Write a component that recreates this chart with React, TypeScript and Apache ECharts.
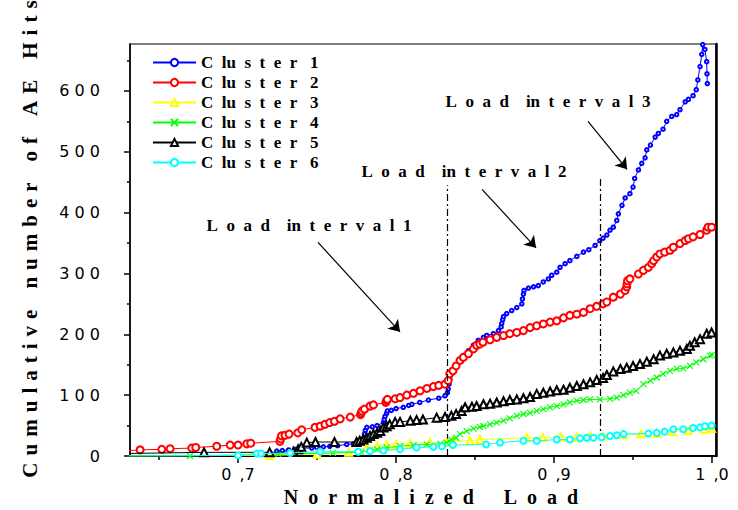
import React, { useEffect, useRef } from "react";
import * as echarts from "echarts";

// Cumulative AE hits per cluster against normalized load: [load, hits]
const cluster1: [number, number][] = [
  [0.7245, 8], [0.728, 9], [0.732, 10], [0.736, 11], [0.74, 13], [0.7466, 13], [0.7498, 14], [0.754, 15],
  [0.758, 16], [0.763, 17], [0.7688, 19], [0.773, 20], [0.7775, 22], [0.7793, 24], [0.7796, 30], [0.78, 36],
  [0.7805, 42], [0.7815, 47], [0.785, 48], [0.788, 50], [0.792, 55], [0.7925, 60], [0.793, 65], [0.794, 70],
  [0.7945, 74], [0.797, 75], [0.8, 78], [0.8046, 80], [0.808, 83], [0.81, 85], [0.815, 88], [0.8205, 92],
  [0.827, 95], [0.831, 99], [0.8325, 104], [0.833, 110], [0.8335, 118], [0.834, 127], [0.8345, 135],
  [0.837, 142], [0.8405, 157], [0.8426, 165], [0.8458, 173], [0.849, 182], [0.852, 190], [0.8553, 195],
  [0.8574, 198], [0.8616, 201], [0.8648, 206], [0.8665, 212], [0.8669, 218], [0.8675, 224], [0.868, 229],
  [0.87, 234], [0.8732, 239], [0.8764, 244], [0.8796, 250], [0.88, 258], [0.8806, 266], [0.881, 272],
  [0.8838, 276], [0.887, 278], [0.89, 280], [0.8932, 286], [0.8964, 291], [0.8985, 297], [0.9017, 302],
  [0.9038, 310], [0.907, 316], [0.91, 321], [0.9144, 328], [0.9186, 335], [0.922, 339], [0.926, 346],
  [0.929, 354], [0.931, 358], [0.9334, 363], [0.9354, 371], [0.9375, 376], [0.9397, 387], [0.9407, 398],
  [0.943, 412], [0.945, 424], [0.948, 431], [0.95, 442], [0.951, 456], [0.9534, 470], [0.9555, 481],
  [0.9576, 490], [0.9587, 503], [0.961, 511], [0.964, 524], [0.966, 530], [0.969, 537], [0.9713, 550],
  [0.9745, 558], [0.9776, 561], [0.9797, 569], [0.983, 582], [0.985, 586], [0.988, 592], [0.99, 602],
  [0.991, 618], [0.9924, 640], [0.9935, 660], [0.9941, 676], [0.9955, 668], [0.9966, 648], [0.9968, 628],
  [0.997, 612],
];

const cluster2: [number, number][] = [
  [0.625, 8], [0.638, 10], [0.6517, 11], [0.657, 12], [0.6707, 13], [0.6732, 14], [0.6865, 16], [0.695, 18],
  [0.7, 18], [0.7055, 20], [0.708, 21], [0.7265, 24], [0.727, 28], [0.7275, 33], [0.7297, 34], [0.7323, 36],
  [0.7378, 38], [0.7403, 43], [0.7487, 47], [0.752, 49], [0.755, 52], [0.758, 55], [0.761, 57], [0.7646, 61],
  [0.771, 64], [0.7775, 68], [0.778, 71], [0.7785, 74], [0.78, 77], [0.7835, 82], [0.7857, 84], [0.7935, 88],
  [0.794, 91], [0.7945, 93], [0.7994, 94], [0.8025, 96], [0.8068, 100], [0.811, 103], [0.8152, 107],
  [0.8195, 111], [0.8236, 114], [0.827, 116], [0.831, 118], [0.833, 124], [0.834, 135], [0.836, 140],
  [0.838, 148], [0.8405, 157], [0.8426, 162], [0.8458, 168], [0.849, 176], [0.851, 182], [0.853, 184],
  [0.855, 187], [0.8595, 191], [0.8637, 195], [0.868, 198], [0.872, 201], [0.8764, 203], [0.8806, 206],
  [0.8848, 211], [0.889, 214], [0.8932, 217], [0.8975, 220], [0.9017, 222], [0.906, 227], [0.91, 231],
  [0.9144, 233], [0.9186, 236], [0.9228, 242], [0.927, 246], [0.931, 250], [0.9334, 253], [0.9375, 261],
  [0.942, 266], [0.945, 272], [0.946, 278], [0.9462, 283], [0.9465, 288], [0.948, 291], [0.9534, 299],
  [0.9565, 305], [0.9597, 310], [0.9618, 316], [0.963, 321], [0.965, 327], [0.967, 332], [0.97, 335],
  [0.9734, 338], [0.9755, 343], [0.9797, 349], [0.983, 354], [0.985, 357], [0.988, 360], [0.9924, 364],
  [0.9966, 371], [0.9975, 376], [0.9997, 376],
];

const cluster3: [number, number][] = [
  [0.625, 0], [0.72, 1], [0.75, 3], [0.77, 6], [0.7815, 14], [0.788, 16], [0.794, 19], [0.8, 19],
  [0.809, 20], [0.8215, 22], [0.832, 22], [0.836, 25], [0.8468, 25], [0.853, 27], [0.8827, 30], [0.893, 30],
  [0.904, 31], [0.9144, 31], [0.923, 33], [0.931, 33], [0.944, 35], [0.955, 36], [0.965, 37], [0.975, 40],
  [0.985, 42], [0.995, 44], [0.9997, 45],
];

const cluster4: [number, number][] = [
  [0.625, 0], [0.6696, 0], [0.7255, 3], [0.76, 5], [0.778, 6], [0.7835, 9], [0.788, 11], [0.794, 14],
  [0.8025, 16], [0.811, 18], [0.8194, 19], [0.828, 20], [0.832, 22], [0.835, 27], [0.838, 30], [0.8405, 36],
  [0.8447, 41], [0.849, 45], [0.853, 48], [0.8553, 49], [0.8595, 52], [0.8637, 55], [0.868, 58], [0.872, 62],
  [0.8764, 66], [0.8806, 69], [0.8848, 71], [0.889, 74], [0.8932, 77], [0.8975, 80], [0.9017, 82],
  [0.906, 85], [0.91, 88], [0.9144, 91], [0.9186, 92], [0.9228, 93], [0.929, 93], [0.9354, 94], [0.9397, 96],
  [0.944, 100], [0.948, 104], [0.952, 107], [0.9565, 118], [0.961, 124], [0.965, 129], [0.969, 135],
  [0.9734, 140], [0.9776, 143], [0.9818, 144], [0.986, 148], [0.99, 154], [0.9945, 159], [0.9987, 165],
  [1.0, 166],
];

const cluster5: [number, number][] = [
  [0.625, 4], [0.6785, 6], [0.72, 6], [0.735, 7], [0.738, 11], [0.74, 15], [0.7435, 22], [0.749, 23],
  [0.761, 23], [0.775, 23], [0.777, 25], [0.7793, 27], [0.7815, 30], [0.7835, 33], [0.7857, 36], [0.788, 38],
  [0.79, 41], [0.792, 47], [0.794, 49], [0.796, 52], [0.7994, 56], [0.8025, 56], [0.809, 58], [0.813, 59],
  [0.817, 60], [0.8257, 63], [0.831, 64], [0.835, 66], [0.838, 69], [0.8415, 74], [0.8437, 80], [0.848, 81],
  [0.851, 82], [0.8553, 85], [0.8595, 86], [0.8637, 88], [0.868, 90], [0.872, 92], [0.8764, 93],
  [0.8806, 95], [0.8848, 97], [0.889, 102], [0.8932, 104], [0.8975, 106], [0.9017, 108], [0.906, 109],
  [0.91, 112], [0.9144, 115], [0.9186, 118], [0.9228, 121], [0.927, 125], [0.931, 128], [0.9334, 133],
  [0.9375, 139], [0.942, 143], [0.946, 145], [0.95, 148], [0.9544, 151], [0.9587, 155], [0.963, 159],
  [0.967, 165], [0.9713, 168], [0.9755, 170], [0.9797, 173], [0.984, 176], [0.986, 181], [0.989, 187],
  [0.9924, 192], [0.9966, 201], [0.9997, 203],
];

const cluster6: [number, number][] = [
  [0.625, 0], [0.7, 1], [0.712, 4], [0.7145, 4], [0.733, 5], [0.752, 7], [0.776, 7], [0.7835, 8],
  [0.792, 9], [0.8025, 11], [0.813, 14], [0.8236, 15], [0.829, 16], [0.836, 18], [0.857, 19], [0.8658, 22],
  [0.8806, 25], [0.889, 25], [0.9017, 27], [0.91, 27], [0.9165, 29], [0.9207, 30], [0.925, 30], [0.93, 31],
  [0.9354, 33], [0.9397, 34], [0.944, 36], [0.9597, 37], [0.965, 38], [0.97, 40], [0.9755, 44],
  [0.9818, 44], [0.988, 46], [0.9924, 47], [0.9955, 49], [0.9997, 50],
];

const clusterNames = ["Cluster 1", "Cluster 2", "Cluster 3", "Cluster 4", "Cluster 5", "Cluster 6"];
const clusterData = [cluster1, cluster2, cluster3, cluster4, cluster5, cluster6];

// Axis ticks
const loadTicks = [0.7, 0.8, 0.9, 1.0];
const loadMinorTicks = [0.65, 0.75, 0.85, 0.95];
const hitTicks = [0, 100, 200, 300, 400, 500, 600];
const hitMinorTicks = [50, 150, 250, 350, 450, 550, 650];

// Load interval boundaries and the hit level where each guide line stops
const intervalBounds = [0.8322, 0.9293];
const intervalBoundTops = [445, 455];

// Interval annotations: label centre, arrow tail, arrow head, in [load, hits]
const intervalNotes = ["Load interval 1", "Load interval 2", "Load interval 3"];
const noteCentres: [number, number][] = [[0.7449, 379], [0.843, 468], [0.8962, 582]];
const arrowTails: [number, number][] = [[0.7506, 351], [0.8544, 438], [0.9215, 550]];
const arrowHeads: [number, number][] = [[0.8025, 204], [0.8886, 342], [0.9462, 471]];

const xTitle = "Normalized Load";
const yTitle = "Cumulative number of AE Hits";

// Styling per cluster
const clusterColors = ["#0000ff", "#ff0000", "#ffff00", "#00ff00", "#000000", "#00ffff"];
const clusterSymbols = [
  "emptyCircle",
  "emptyCircle",
  "emptyTriangle",
  "path://M0,0L10,10M10,0L0,10",
  "emptyTriangle",
  "emptyCircle",
];
const clusterSymbolSizes = [3.5, 7, 7, 6, 8, 6];
const clusterBorderWidths = [0.8, 1.5, 1, 1.1, 1.1, 1.1];

// Spread the letters of a label out, keeping listed pairs together
function track(text: string, gap: string, wordGap: string, numGap: string, pairs: string[] = []): string {
  const words = text.split(" ");
  let out = "";
  words.forEach((word, wi) => {
    const parts: string[] = [];
    let i = 0;
    while (i < word.length) {
      const two = word.slice(i, i + 2);
      if (pairs.includes(two)) {
        parts.push(two);
        i += 2;
      } else {
        parts.push(word[i]);
        i += 1;
      }
    }
    if (wi > 0) out += /^\d+$/.test(word) ? numGap : wordGap;
    out += parts.join(gap);
  });
  return out;
}

const SERIF = '"Liberation Serif", "Times New Roman", serif';
const SANS = '"DejaVu Sans", sans-serif';
const X_MIN = 0.6316;
const X_MAX = 1.0025;
const Y_MIN = 0;
const Y_MAX = 677;

export default function App() {
  const ref = useRef<HTMLDivElement>(null);

  useEffect(() => {
    if (!ref.current) return;
    const chart = echarts.init(ref.current, null, { renderer: "svg" });

    const clusterSeries = clusterNames.map((name, i) => ({
      name,
      type: "line",
      data: clusterData[i],
      color: clusterColors[i],
      symbol: clusterSymbols[i],
      symbolSize: clusterSymbolSizes[i],
      showSymbol: true,
      showAllSymbol: true,
      clip: true,
      lineStyle: { width: 1, color: clusterColors[i] },
      itemStyle: {
        color: clusterColors[i],
        borderColor: clusterColors[i],
        borderWidth: clusterBorderWidths[i],
      },
      emphasis: { disabled: true },
      z: 3 + i,
    }));

    const guideSeries = {
      name: "guides",
      type: "line",
      data: [],
      silent: true,
      xAxisIndex: 0,
      yAxisIndex: 0,
      markLine: {
        silent: true,
        animation: false,
        symbol: ["none", "none"],
        label: { show: false },
        lineStyle: { color: "#000", width: 1.2, type: [7, 3, 2, 3] },
        data: intervalBounds.map((x, i) => [
          { coord: [x, Y_MIN] },
          { coord: [x, intervalBoundTops[i]] },
        ]),
      },
    };

    const arrowSeries = {
      name: "arrows",
      type: "line",
      data: [],
      silent: true,
      xAxisIndex: 0,
      yAxisIndex: 0,
      markLine: {
        silent: true,
        animation: false,
        symbol: ["none", "arrow"],
        symbolSize: 11,
        label: { show: false },
        lineStyle: { color: "#000", width: 1.2, type: "solid" },
        itemStyle: { color: "#000" },
        data: arrowTails.map((t, i) => [{ coord: t }, { coord: arrowHeads[i] }]),
      },
    };

    const option: any = {
      animation: false,
      backgroundColor: "#ffffff",
      grid: {
        left: 130,
        right: 22,
        top: 44,
        bottom: 54,
        show: true,
        borderColor: "#000",
        borderWidth: 1.2,
        backgroundColor: "transparent",
      },
      legend: {
        data: clusterNames,
        orient: "vertical",
        left: 147,
        top: 49,
        itemWidth: 43,
        itemHeight: 9,
        itemGap: 3,
        selectedMode: false,
        formatter: (name: string) => track(name, "\u2002", "\u2002", "\u2002\u2005", ["lu"]),
        textStyle: {
          fontFamily: SERIF,
          fontWeight: "bold",
          fontSize: 17,
          lineHeight: 17,
          color: "#000",
        },
      },
      xAxis: [
        {
          type: "value",
          min: X_MIN,
          max: X_MAX,
          position: "bottom",
          axisLine: { show: true, onZero: false, lineStyle: { color: "#000", width: 2 } },
          axisTick: { show: true, customValues: loadTicks, length: 7, lineStyle: { color: "#000", width: 1.5 } },
          axisLabel: {
            show: true,
            customValues: loadTicks,
            margin: 10,
            fontFamily: SANS,
            fontSize: 16,
            color: "#000",
            formatter: (v: number) => {
              const [a, b] = v.toFixed(1).split(".");
              return `${a}\u2002,${b}`;
            },
          },
          splitLine: { show: false },
        },
        {
          type: "value",
          min: X_MIN,
          max: X_MAX,
          position: "bottom",
          axisLine: { show: false },
          axisTick: { show: true, customValues: loadMinorTicks, length: 4, lineStyle: { color: "#000", width: 1.5 } },
          axisLabel: { show: false },
          splitLine: { show: false },
        },
      ],
      yAxis: [
        {
          type: "value",
          min: Y_MIN,
          max: Y_MAX,
          position: "left",
          axisLine: { show: true, onZero: false, lineStyle: { color: "#000", width: 1.5 } },
          axisTick: { show: true, customValues: hitTicks, length: 6, lineStyle: { color: "#000", width: 1.5 } },
          axisLabel: {
            show: true,
            customValues: hitTicks,
            margin: 30,
            fontFamily: SANS,
            fontSize: 16,
            color: "#000",
            formatter: (v: number) => String(v).split("").join(" "),
          },
          splitLine: { show: false },
        },
        {
          type: "value",
          min: Y_MIN,
          max: Y_MAX,
          position: "left",
          axisLine: { show: false },
          axisTick: { show: true, customValues: hitMinorTicks, length: 3, lineStyle: { color: "#000", width: 1.5 } },
          axisLabel: { show: false },
          splitLine: { show: false },
        },
        {
          type: "value",
          min: Y_MIN,
          max: Y_MAX,
          position: "right",
          axisLine: { show: true, onZero: false, lineStyle: { color: "#000", width: 2.5 } },
          axisTick: { show: false },
          axisLabel: { show: false },
          splitLine: { show: false },
        },
      ],
      series: [guideSeries, arrowSeries, ...clusterSeries],
    };

    chart.setOption(option);

    const toPx = (p: [number, number]) =>
      chart.convertToPixel({ xAxisIndex: 0, yAxisIndex: 0 }, p) as number[];

    const noteText = (s: string) => track(s, "\u2002", "\u2003", "\u2002", ["in"]);

    const graphics: any[] = intervalNotes.map((note, i) => {
      const [x, y] = toPx(noteCentres[i]);
      return {
        type: "text",
        x,
        y,
        silent: true,
        style: {
          text: noteText(note),
          fill: "#000",
          fontFamily: SERIF,
          fontWeight: "bold",
          fontSize: 17,
          align: "center",
          verticalAlign: "middle",
          textAlign: "center",
          textVerticalAlign: "middle",
        },
      };
    });

    graphics.push({
      type: "text",
      x: 431,
      y: 497,
      silent: true,
      style: {
        text: track(xTitle, "\u2002", "\u2003\u2002", "\u2002"),
        fill: "#000",
        fontFamily: SERIF,
        fontWeight: "bold",
        fontSize: 20,
        align: "center",
        verticalAlign: "middle",
        textAlign: "center",
        textVerticalAlign: "middle",
      },
    });

    graphics.push({
      type: "text",
      x: 30,
      y: 239,
      rotation: Math.PI / 2,
      silent: true,
      style: {
        text: track(yTitle, "\u2004", "\u2003", "\u2003"),
        fill: "#000",
        fontFamily: SERIF,
        fontWeight: "bold",
        fontSize: 21,
        align: "center",
        verticalAlign: "middle",
        textAlign: "center",
        textVerticalAlign: "middle",
      },
    });

    chart.setOption({ graphic: graphics });

    return () => chart.dispose();
  }, []);

  return (
    <div
      ref={ref}
      style={{ position: "fixed", left: 0, top: 0, width: 738, height: 510, background: "#fff" }}
    />
  );
}
